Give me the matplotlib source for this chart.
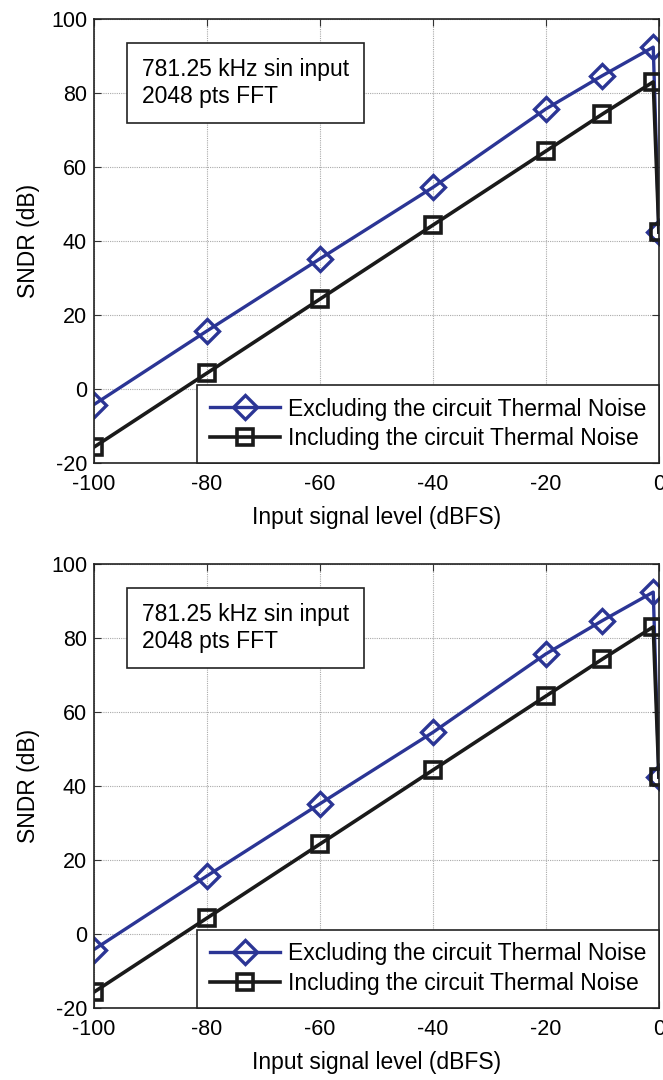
import numpy as np
import matplotlib.pyplot as plt

plt.rcParams['font.family'] = ['Liberation Sans', 'DejaVu Sans']
plt.rcParams['axes.unicode_minus'] = False

# input level (dBFS)
x_excl = [-100, -80, -60, -40, -20, -10, -1, 0]
sndr_excl = [-4.2, 15.7, 35.2, 54.5, 75.7, 84.7, 92.4, 42.4]
x_incl = [-100, -80, -60, -40, -20, -10, -1, 0]
sndr_incl = [-15.7, 4.3, 24.3, 44.3, 64.3, 74.3, 83.0, 42.4]

xticks = [-100, -80, -60, -40, -20, 0]
yticks = [-20, 0, 20, 40, 60, 80, 100]

blue = '#2b3595'
black = '#1a1a1a'
fs_tick = 15.5
fs = 16.5

fig = plt.figure(figsize=(6.63, 10.8), dpi=100)
ax1 = fig.add_axes([0.1418, 0.5713, 0.852, 0.4111])
ax2 = fig.add_axes([0.1418, 0.0667, 0.852, 0.4111])

for ax in (ax1, ax2):
    ax.plot(x_excl, sndr_excl, color=blue, lw=2.4, marker='D', ms=12,
            mfc='none', mec=blue, mew=2.4, label='Excluding the circuit Thermal Noise')
    ax.plot(x_incl, sndr_incl, color=black, lw=2.6, marker='s', ms=11,
            mfc='none', mec=black, mew=2.6, label='Including the circuit Thermal Noise')
    ax.set_xlim(-100, 0)
    ax.set_ylim(-20, 100)
    ax.set_xticks(xticks)
    ax.set_yticks(yticks)
    ax.grid(True, color='#aaaaaa', ls=(0, (1, 1)), lw=0.8)
    ax.tick_params(direction='in', labelsize=fs_tick, length=5, top=True, right=True,
                   color='#333333')
    ax.tick_params(axis='x', pad=8)
    ax.tick_params(axis='y', pad=5)
    for s in ax.spines.values():
        s.set_color('#222222')
        s.set_linewidth(1.2)
    ax.set_xlabel('Input signal level (dBFS)', fontsize=fs, labelpad=8)
    ax.set_ylabel('SNDR (dB)', fontsize=fs, labelpad=8)
    leg = ax.legend(loc='lower right', fontsize=fs, borderaxespad=0,
                    handlelength=3.05, fancybox=False, framealpha=1,
                    edgecolor='#222222', borderpad=0.55, labelspacing=0.3,
                    handletextpad=0.35)
    leg.get_frame().set_linewidth(1.2)
    ax.text(0.085, 0.912, '781.25 kHz sin input\n2048 pts FFT', transform=ax.transAxes,
            fontsize=fs, va='top', ha='left', linespacing=1.2,
            bbox=dict(boxstyle='square,pad=0.65', fc='white', ec='#222222', lw=1.2))

fig.savefig('out.png', dpi=100)
